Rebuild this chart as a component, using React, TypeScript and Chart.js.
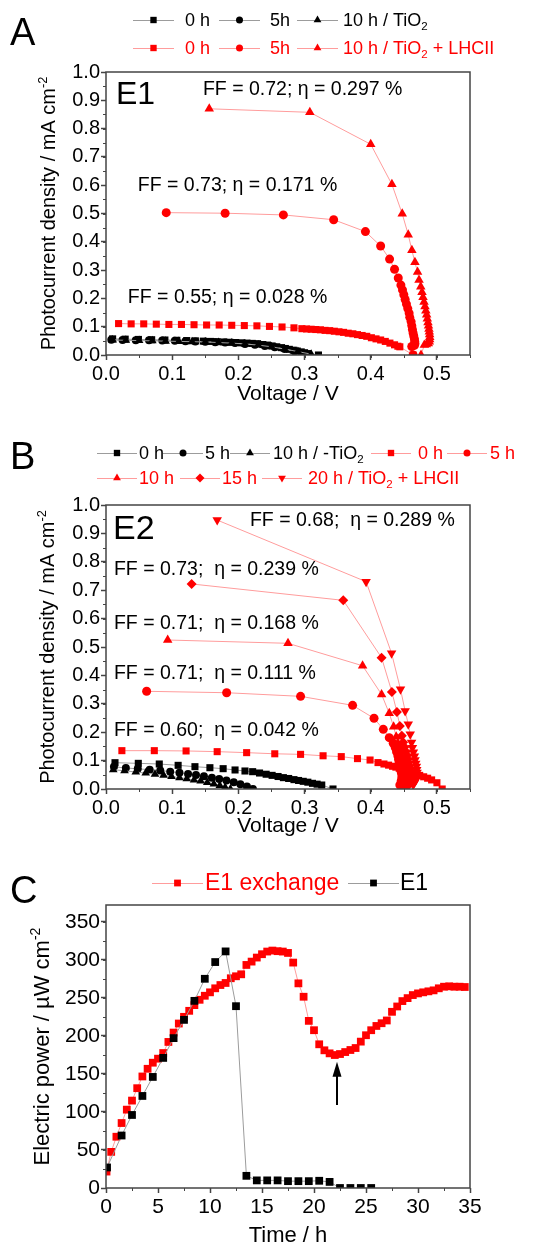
import React, { useEffect, useRef } from 'react';
import { Chart, registerables } from 'chart.js';

Chart.register(...registerables);

const FONT = '"Liberation Sans", Arial, Helvetica, sans-serif';
const RED = '#ff0000';
const RED_LINE = '#ff9c9c';
const BLACK = '#000000';
const GREY_LINE = '#9c9c9c';
const AXIS = '#444444';

// ---------- Panel A: E1, photocurrent density (mA cm-2) vs voltage (V) ----------
const A_BLK0_V = [0.010, 0.029, 0.049, 0.069, 0.089, 0.107, 0.122, 0.135, 0.147, 0.158, 0.168, 0.178, 0.187, 0.196, 0.205, 0.213, 0.221, 0.229, 0.237, 0.244, 0.251, 0.258, 0.265, 0.271, 0.277, 0.283, 0.289, 0.295, 0.300, 0.305, 0.321];
const A_BLK0_J = [0.057, 0.056, 0.055, 0.054, 0.053, 0.052, 0.051, 0.050, 0.049, 0.048, 0.047, 0.046, 0.045, 0.044, 0.043, 0.042, 0.041, 0.040, 0.037, 0.035, 0.032, 0.029, 0.026, 0.023, 0.020, 0.017, 0.014, 0.011, 0.008, 0.005, 0.000];
const A_BLK5_V = [0.008, 0.025, 0.045, 0.065, 0.085, 0.104, 0.120, 0.135, 0.150, 0.165, 0.180, 0.195, 0.210, 0.225, 0.240, 0.255, 0.270, 0.285, 0.298];
const A_BLK5_J = [0.054, 0.053, 0.052, 0.052, 0.051, 0.050, 0.049, 0.048, 0.047, 0.045, 0.044, 0.042, 0.039, 0.036, 0.032, 0.027, 0.021, 0.013, 0.004];
const A_BLK10_V = [0.010, 0.030, 0.050, 0.070, 0.090, 0.110, 0.130, 0.150, 0.170, 0.190, 0.210, 0.230, 0.250, 0.270, 0.290, 0.310];
const A_BLK10_J = [0.053, 0.052, 0.051, 0.050, 0.049, 0.048, 0.047, 0.046, 0.044, 0.042, 0.039, 0.035, 0.029, 0.021, 0.012, 0.003];
const A_RED0_V = [0.019, 0.038, 0.057, 0.076, 0.095, 0.114, 0.133, 0.152, 0.171, 0.190, 0.209, 0.228, 0.247, 0.266, 0.284, 0.296, 0.303, 0.310, 0.317, 0.324, 0.331, 0.338, 0.345, 0.352, 0.359, 0.366, 0.373, 0.380, 0.387, 0.394, 0.401, 0.408, 0.415, 0.422, 0.429, 0.436, 0.441, 0.444, 0.464];
const A_RED0_J = [0.111, 0.110, 0.110, 0.109, 0.108, 0.108, 0.107, 0.106, 0.106, 0.105, 0.104, 0.103, 0.101, 0.099, 0.096, 0.093, 0.092, 0.091, 0.090, 0.089, 0.087, 0.086, 0.084, 0.082, 0.080, 0.077, 0.075, 0.072, 0.069, 0.066, 0.061, 0.057, 0.053, 0.048, 0.042, 0.036, 0.031, 0.029, 0.000];
const A_RED5_V = [0.091, 0.180, 0.268, 0.344, 0.392, 0.415, 0.4285, 0.436, 0.4416, 0.4456, 0.448, 0.450, 0.452, 0.454, 0.456, 0.458, 0.459, 0.461, 0.462, 0.463, 0.464, 0.465, 0.466, 0.4665, 0.4668, 0.466, 0.462, 0.464];
const A_RED5_J = [0.503, 0.501, 0.495, 0.478, 0.436, 0.385, 0.339, 0.303, 0.272, 0.247, 0.230, 0.213, 0.196, 0.180, 0.164, 0.148, 0.133, 0.118, 0.104, 0.090, 0.078, 0.067, 0.057, 0.048, 0.040, 0.034, 0.030, 0.000];
const A_RED10_V = [0.156, 0.308, 0.400, 0.432, 0.4476, 0.4567, 0.4622, 0.4668, 0.4708, 0.473, 0.4756, 0.4775, 0.479, 0.4805, 0.482, 0.4833, 0.4845, 0.4855, 0.4865, 0.4873, 0.488, 0.4885, 0.489, 0.4892, 0.489, 0.4885, 0.487, 0.484, 0.481, 0.476];
const A_RED10_J = [0.870, 0.8575, 0.7445, 0.603, 0.499, 0.425, 0.370, 0.3275, 0.293, 0.265, 0.241, 0.222, 0.204, 0.187, 0.171, 0.156, 0.142, 0.128, 0.115, 0.103, 0.092, 0.082, 0.072, 0.063, 0.055, 0.047, 0.041, 0.037, 0.035, 0.000];

// ---------- Panel B: E2 ----------
const B_BLK0_V = [0.0136, 0.0488, 0.0805, 0.109, 0.1344, 0.157, 0.177, 0.195, 0.210, 0.2216, 0.232, 0.242, 0.251, 0.260, 0.268, 0.276, 0.284, 0.291, 0.298, 0.305, 0.312, 0.319, 0.326, 0.343];
const B_BLK0_J = [0.0926, 0.0903, 0.088, 0.0833, 0.0786, 0.075, 0.0716, 0.067, 0.0634, 0.061, 0.0563, 0.052, 0.048, 0.044, 0.040, 0.037, 0.033, 0.030, 0.027, 0.024, 0.020, 0.017, 0.014, 0.000];
const B_BLK5_V = [0.012, 0.030, 0.048, 0.066, 0.082, 0.097, 0.111, 0.124, 0.136, 0.148, 0.160, 0.171, 0.182, 0.193, 0.203, 0.213, 0.222];
const B_BLK5_J = [0.078, 0.074, 0.071, 0.068, 0.065, 0.061, 0.057, 0.053, 0.049, 0.045, 0.040, 0.035, 0.030, 0.024, 0.017, 0.009, 0.000];
const B_BLK10_V = [0.011, 0.028, 0.045, 0.060, 0.074, 0.087, 0.099, 0.111, 0.122, 0.133, 0.143, 0.153, 0.163, 0.172, 0.180, 0.188];
const B_BLK10_J = [0.068, 0.064, 0.060, 0.056, 0.052, 0.048, 0.044, 0.040, 0.036, 0.032, 0.028, 0.023, 0.018, 0.012, 0.006, 0.000];
const B_RED0_V = [0.024, 0.073, 0.121, 0.168, 0.2125, 0.255, 0.294, 0.328, 0.3555, 0.380, 0.399, 0.411, 0.420, 0.427, 0.433, 0.438, 0.443, 0.448, 0.453, 0.458, 0.463, 0.468, 0.474, 0.480, 0.486, 0.492, 0.500, 0.508];
const B_RED0_J = [0.135, 0.135, 0.134, 0.1315, 0.128, 0.124, 0.122, 0.117, 0.114, 0.107, 0.102, 0.093, 0.088, 0.084, 0.080, 0.077, 0.073, 0.069, 0.065, 0.061, 0.057, 0.053, 0.048, 0.043, 0.038, 0.032, 0.022, 0.000];
const B_RED5_V = [0.0614, 0.1823, 0.294, 0.3726, 0.405, 0.419, 0.428, 0.434, 0.437, 0.439, 0.441, 0.442, 0.443, 0.444, 0.445, 0.446, 0.447, 0.447, 0.446, 0.444];
const B_RED5_J = [0.344, 0.339, 0.3263, 0.2946, 0.249, 0.210, 0.1807, 0.161, 0.146, 0.131, 0.117, 0.104, 0.092, 0.081, 0.070, 0.060, 0.050, 0.040, 0.028, 0.014];
const B_RED10_V = [0.0932, 0.275, 0.3877, 0.4164, 0.428, 0.4346, 0.4385, 0.441, 0.443, 0.445, 0.4465, 0.448, 0.449, 0.450, 0.451, 0.452, 0.4525, 0.453, 0.453, 0.452, 0.450];
const B_RED10_J = [0.5246, 0.513, 0.434, 0.333, 0.2664, 0.2195, 0.184, 0.162, 0.146, 0.131, 0.117, 0.104, 0.092, 0.081, 0.070, 0.060, 0.050, 0.040, 0.030, 0.020, 0.010];
const B_RED15_V = [0.1294, 0.3585, 0.4164, 0.432, 0.4396, 0.444, 0.447, 0.449, 0.451, 0.453, 0.455, 0.456, 0.457, 0.458, 0.459, 0.4595, 0.460, 0.460, 0.4595, 0.458, 0.456];
const B_RED15_J = [0.722, 0.6643, 0.4624, 0.3415, 0.271, 0.222, 0.1877, 0.165, 0.148, 0.132, 0.118, 0.105, 0.093, 0.082, 0.071, 0.061, 0.051, 0.041, 0.031, 0.021, 0.011];
const B_RED20_V = [0.168, 0.393, 0.4315, 0.445, 0.452, 0.4567, 0.4597, 0.4617, 0.463, 0.4645, 0.466, 0.467, 0.468, 0.469, 0.4695, 0.470, 0.470, 0.4695, 0.468, 0.466, 0.464];
const B_RED20_J = [0.947, 0.730, 0.478, 0.351, 0.2746, 0.228, 0.193, 0.164, 0.145, 0.129, 0.115, 0.102, 0.090, 0.079, 0.068, 0.058, 0.048, 0.039, 0.030, 0.022, 0.015];

// ---------- Panel C: electric power (µW cm-2) vs time (h) ----------
const C_E1_T = [0.1, 1.5, 2.5, 3.5, 4.5, 5.5, 6.5, 7.5, 8.5, 9.5, 10.5, 11.5, 12.5, 13.5, 14.5, 15.5, 16.5, 17.5, 18.5, 19.5, 20.5, 21.5, 22.5, 23.5, 24.5, 25.5];
const C_E1_P = [27, 69, 96, 121, 146, 171, 197, 221, 246, 275, 297, 311, 239, 16, 10, 10, 10, 9, 9, 9, 9.5, 8, 0, 0, 0, 0];
const C_EX_T = [0.05, 0.5, 1, 1.5, 2, 2.5, 3, 3.5, 4, 4.5, 5, 5.5, 6, 6.5, 7, 7.5, 8, 8.5, 9, 9.5, 10, 10.5, 11, 11.5, 12, 12.5, 13, 13.5, 14, 14.5, 15, 15.5, 16, 16.5, 17, 17.5, 18, 18.5, 19, 19.5, 20, 20.5, 21, 21.5, 22, 22.5, 23, 23.5, 24, 24.5, 25, 25.5, 26, 26.5, 27, 27.5, 28, 28.5, 29, 29.5, 30, 30.5, 31, 31.5, 32, 32.5, 33, 33.5, 34, 34.5];
const C_EX_P = [21.6, 47.5, 67.4, 85.4, 103, 114.9, 131.2, 146.6, 156.7, 164.7, 170, 177.4, 192, 204.3, 216.2, 225, 232.9, 240.4, 247.4, 252.7, 257.2, 262.5, 266.8, 269.5, 275.7, 278.3, 280.9, 293.2, 297.6, 302.9, 307.3, 310.8, 312.1, 311.3, 310.8, 309, 296.3, 269, 251.4, 219.7, 207.4, 188.9, 181, 177, 174.8, 176.1, 178.7, 181.4, 184, 192.4, 200.8, 207.4, 213, 216.6, 220.2, 231.6, 238.6, 245.7, 249.6, 253.6, 255.8, 257.2, 258.5, 259.8, 262.5, 264.6, 265.1, 264.6, 264.6, 264.2];
const C_ARROW = { t: 22.2, from: 109, to: 166 };

type Part = { t: string; k?: 'sub' | 'sup' };
type Style = 'rect' | 'circle' | 'triangle' | 'rectRot';

interface Series { xs: number[]; ys: number[]; color: string; line: string; style: Style; r: number; rot?: number }
interface LegendItem { lx: number; tx: number; style: Style; rot?: number; color: string; line: string; parts: Part[]; mr: number }
interface LegendRow { y: number; len: number; size: number; items: LegendItem[] }
interface Note { x: number; y: number; parts: Part[]; size: number }
interface Panel {
  top: number; height: number; padTop: number; xAxisH: number;
  letter: string; letterY: number; letterSize: number;
  xMin: number; xMax: number; xStep: number; xMinor: number; xDigits: number;
  yMin: number; yMax: number; yStep: number; yMinor: number; yDigits: number;
  tickSize: number; xTitle: string; xTitleSize: number; xTitlePad: number;
  yTitle: Part[]; yTitleSize: number; yTitleX: number;
  series: Series[]; legend: LegendRow[]; notes: Note[];
  arrow?: { t: number; from: number; to: number };
}

const txt = (t: string): Part[] => [{ t }];
const tio2 = (pre: string, post = ''): Part[] =>
  post ? [{ t: pre + 'TiO' }, { t: '2', k: 'sub' }, { t: post }] : [{ t: pre + 'TiO' }, { t: '2', k: 'sub' }];

const PHOTO_TITLE: Part[] = [{ t: 'Photocurrent density / mA cm' }, { t: '-2', k: 'sup' }];

const PANEL_A: Panel = {
  top: 0, height: 420, padTop: 72, xAxisH: 65,
  letter: 'A', letterY: 45, letterSize: 38,
  xMin: 0, xMax: 0.55, xStep: 0.1, xMinor: 0.05, xDigits: 1,
  yMin: 0, yMax: 1.0, yStep: 0.1, yMinor: 0.05, yDigits: 1,
  tickSize: 20, xTitle: 'Voltage / V', xTitleSize: 21, xTitlePad: 13,
  yTitle: PHOTO_TITLE, yTitleSize: 20, yTitleX: 55,
  series: [
    { xs: A_RED10_V, ys: A_RED10_J, color: RED, line: RED_LINE, style: 'triangle', r: 5.5 },
    { xs: A_RED5_V, ys: A_RED5_J, color: RED, line: RED_LINE, style: 'circle', r: 4.5 },
    { xs: A_RED0_V, ys: A_RED0_J, color: RED, line: RED_LINE, style: 'rect', r: 5 },
    { xs: A_BLK10_V, ys: A_BLK10_J, color: BLACK, line: GREY_LINE, style: 'triangle', r: 5 },
    { xs: A_BLK5_V, ys: A_BLK5_J, color: BLACK, line: GREY_LINE, style: 'circle', r: 4 },
    { xs: A_BLK0_V, ys: A_BLK0_J, color: BLACK, line: GREY_LINE, style: 'rect', r: 5 },
  ],
  legend: [
    {
      y: 20, len: 41, size: 18, items: [
        { lx: 133, tx: 185, style: 'rect', color: BLACK, line: GREY_LINE, parts: txt('0 h'), mr: 4.5 },
        { lx: 219, tx: 270, style: 'circle', color: BLACK, line: GREY_LINE, parts: txt('5h'), mr: 3.5 },
        { lx: 297, tx: 343, style: 'triangle', color: BLACK, line: GREY_LINE, parts: tio2('10 h / '), mr: 4.5 },
      ],
    },
    {
      y: 48, len: 41, size: 18, items: [
        { lx: 133, tx: 185, style: 'rect', color: RED, line: RED_LINE, parts: txt('0 h'), mr: 4.5 },
        { lx: 219, tx: 270, style: 'circle', color: RED, line: RED_LINE, parts: txt('5h'), mr: 3.5 },
        { lx: 297, tx: 343, style: 'triangle', color: RED, line: RED_LINE, parts: tio2('10 h / ', ' + LHCII'), mr: 4.5 },
      ],
    },
  ],
  notes: [
    { x: 0.015, y: 0.919, parts: txt('E1'), size: 32 },
    { x: 0.1465, y: 0.936, parts: txt('FF = 0.72; η = 0.297 %'), size: 19.5 },
    { x: 0.048, y: 0.597, parts: txt('FF = 0.73; η = 0.171 %'), size: 19.5 },
    { x: 0.033, y: 0.2025, parts: txt('FF = 0.55; η = 0.028 %'), size: 19.5 },
  ],
};

const PANEL_B: Panel = {
  top: 420, height: 420, padTop: 85, xAxisH: 51,
  letter: 'B', letterY: 49, letterSize: 38,
  xMin: 0, xMax: 0.55, xStep: 0.1, xMinor: 0.05, xDigits: 1,
  yMin: 0, yMax: 1.0, yStep: 0.1, yMinor: 0.05, yDigits: 1,
  tickSize: 20, xTitle: 'Voltage / V', xTitleSize: 21, xTitlePad: 1,
  yTitle: PHOTO_TITLE, yTitleSize: 20, yTitleX: 54,
  series: [
    { xs: B_RED20_V, ys: B_RED20_J, color: RED, line: RED_LINE, style: 'triangle', r: 5.5, rot: 180 },
    { xs: B_RED15_V, ys: B_RED15_J, color: RED, line: RED_LINE, style: 'rectRot', r: 5 },
    { xs: B_RED10_V, ys: B_RED10_J, color: RED, line: RED_LINE, style: 'triangle', r: 5.5 },
    { xs: B_RED5_V, ys: B_RED5_J, color: RED, line: RED_LINE, style: 'circle', r: 4.5 },
    { xs: B_RED0_V, ys: B_RED0_J, color: RED, line: RED_LINE, style: 'rect', r: 5 },
    { xs: B_BLK10_V, ys: B_BLK10_J, color: BLACK, line: GREY_LINE, style: 'triangle', r: 5 },
    { xs: B_BLK5_V, ys: B_BLK5_J, color: BLACK, line: GREY_LINE, style: 'circle', r: 4 },
    { xs: B_BLK0_V, ys: B_BLK0_J, color: BLACK, line: GREY_LINE, style: 'rect', r: 5 },
  ],
  legend: [
    {
      y: 453, len: 40, size: 18, items: [
        { lx: 97, tx: 139, style: 'rect', color: BLACK, line: GREY_LINE, parts: txt('0 h'), mr: 4.5 },
        { lx: 163, tx: 205, style: 'circle', color: BLACK, line: GREY_LINE, parts: txt('5 h'), mr: 3.5 },
        { lx: 230, tx: 273, style: 'triangle', color: BLACK, line: GREY_LINE, parts: tio2('10 h / -'), mr: 4.5 },
        { lx: 371, tx: 418, style: 'rect', color: RED, line: RED_LINE, parts: txt('0 h'), mr: 4.5 },
        { lx: 447, tx: 490, style: 'circle', color: RED, line: RED_LINE, parts: txt('5 h'), mr: 3.5 },
      ],
    },
    {
      y: 478, len: 40, size: 18, items: [
        { lx: 97, tx: 139, style: 'triangle', color: RED, line: RED_LINE, parts: txt('10 h'), mr: 4.5 },
        { lx: 180, tx: 222, style: 'rectRot', color: RED, line: RED_LINE, parts: txt('15 h'), mr: 4.5 },
        { lx: 262, tx: 308, style: 'triangle', rot: 180, color: RED, line: RED_LINE, parts: tio2('20 h / ', ' + LHCII'), mr: 4.5 },
      ],
    },
  ],
  notes: [
    { x: 0.0106, y: 0.915, parts: txt('E2'), size: 34 },
    { x: 0.2175, y: 0.945, parts: txt('FF = 0.68;  η = 0.289 %'), size: 19.5 },
    { x: 0.012, y: 0.771, parts: txt('FF = 0.73;  η = 0.239 %'), size: 19.5 },
    { x: 0.012, y: 0.581, parts: txt('FF = 0.71;  η = 0.168 %'), size: 19.5 },
    { x: 0.012, y: 0.405, parts: txt('FF = 0.71;  η = 0.111 %'), size: 19.5 },
    { x: 0.012, y: 0.205, parts: txt('FF = 0.60;  η = 0.042 %'), size: 19.5 },
  ],
};

const PANEL_C: Panel = {
  top: 840, height: 409, padTop: 65, xAxisH: 61,
  letter: 'C', letterY: 63, letterSize: 38,
  xMin: 0, xMax: 35, xStep: 5, xMinor: 2.5, xDigits: 0,
  yMin: 0, yMax: 372, yStep: 50, yMinor: 25, yDigits: 0,
  tickSize: 21, xTitle: 'Time / h', xTitleSize: 22, xTitlePad: 0,
  yTitle: [{ t: 'Electric power / µW cm' }, { t: '-2', k: 'sup' }], yTitleSize: 22, yTitleX: 49,
  series: [
    { xs: C_E1_T, ys: C_E1_P, color: BLACK, line: GREY_LINE, style: 'rect', r: 5.5 },
    { xs: C_EX_T, ys: C_EX_P, color: RED, line: RED_LINE, style: 'rect', r: 5.5 },
  ],
  legend: [
    {
      y: 883, len: 51, size: 23, items: [
        { lx: 152, tx: 205, style: 'rect', color: RED, line: RED_LINE, parts: txt('E1 exchange'), mr: 4.8 },
        { lx: 348, tx: 400, style: 'rect', color: BLACK, line: GREY_LINE, parts: txt('E1'), mr: 4.8 },
      ],
    },
  ],
  notes: [],
  arrow: C_ARROW,
};

function setFont(ctx: CanvasRenderingContext2D, size: number) {
  ctx.font = `${size}px ${FONT}`;
}

function richWidth(ctx: CanvasRenderingContext2D, parts: Part[], size: number) {
  let w = 0;
  for (const p of parts) {
    setFont(ctx, p.k ? size * 0.64 : size);
    w += ctx.measureText(p.t).width;
  }
  return w;
}

function drawRich(ctx: CanvasRenderingContext2D, parts: Part[], x: number, y: number, size: number, color: string, baseline: CanvasTextBaseline) {
  ctx.fillStyle = color;
  ctx.textAlign = 'left';
  ctx.textBaseline = baseline;
  let cx = x;
  for (const p of parts) {
    const s = p.k ? size * 0.64 : size;
    setFont(ctx, s);
    const dy = p.k === 'sub' ? size * 0.3 : p.k === 'sup' ? -size * 0.42 : 0;
    ctx.fillText(p.t, cx, y + dy);
    cx += ctx.measureText(p.t).width;
  }
}

function drawMarker(ctx: CanvasRenderingContext2D, style: Style, x: number, y: number, r: number, color: string, rot = 0) {
  ctx.save();
  ctx.fillStyle = color;
  ctx.beginPath();
  if (style === 'rect') {
    const s = r * Math.SQRT1_2;
    ctx.rect(x - s, y - s, 2 * s, 2 * s);
  } else if (style === 'rectRot') {
    ctx.moveTo(x, y - r);
    ctx.lineTo(x + r, y);
    ctx.lineTo(x, y + r);
    ctx.lineTo(x - r, y);
    ctx.closePath();
  } else if (style === 'circle') {
    ctx.arc(x, y, r, 0, Math.PI * 2);
  } else {
    let a = (rot * Math.PI) / 180;
    ctx.moveTo(x + Math.sin(a) * r, y - Math.cos(a) * r);
    a += (2 * Math.PI) / 3;
    ctx.lineTo(x + Math.sin(a) * r, y - Math.cos(a) * r);
    a += (2 * Math.PI) / 3;
    ctx.lineTo(x + Math.sin(a) * r, y - Math.cos(a) * r);
    ctx.closePath();
  }
  ctx.fill();
  ctx.restore();
}

function decorPlugin(p: Panel) {
  return {
    id: 'panelDecor',
    afterDatasetsDraw(chart: any) {
      const ctx: CanvasRenderingContext2D = chart.ctx;
      const { left, right, top, bottom } = chart.chartArea;
      const xs = chart.scales.x;
      const ys = chart.scales.y;
      ctx.save();
      ctx.strokeStyle = AXIS;
      ctx.lineWidth = 1.5;
      ctx.strokeRect(left, top, right - left, bottom - top);
      ctx.lineWidth = 1;
      ctx.beginPath();
      for (let i = 0; i * p.xMinor <= p.xMax + 1e-9; i++) {
        const px = Math.round(xs.getPixelForValue(i * p.xMinor)) + 0.5;
        ctx.moveTo(px, bottom);
        ctx.lineTo(px, bottom + 3);
      }
      for (let i = 0; i * p.yMinor <= p.yMax + 1e-9; i++) {
        const py = Math.round(ys.getPixelForValue(i * p.yMinor)) + 0.5;
        ctx.moveTo(left, py);
        ctx.lineTo(left - 3, py);
      }
      ctx.stroke();
      ctx.restore();
    },
    afterDraw(chart: any) {
      const ctx: CanvasRenderingContext2D = chart.ctx;
      const { top, bottom } = chart.chartArea;
      const xs = chart.scales.x;
      const ys = chart.scales.y;
      ctx.save();

      // panel letter
      setFont(ctx, p.letterSize);
      ctx.fillStyle = BLACK;
      ctx.textAlign = 'left';
      ctx.textBaseline = 'alphabetic';
      ctx.fillText(p.letter, 10, p.letterY);

      // legend rows
      for (const row of p.legend) {
        const y = row.y - p.top;
        for (const it of row.items) {
          ctx.strokeStyle = it.line;
          ctx.lineWidth = 1;
          ctx.beginPath();
          ctx.moveTo(it.lx, y + 0.5);
          ctx.lineTo(it.lx + row.len, y + 0.5);
          ctx.stroke();
          drawMarker(ctx, it.style, it.lx + row.len / 2, y, it.mr, it.color, it.rot ?? 0);
          drawRich(ctx, it.parts, it.tx, y + 1, row.size, it.color, 'middle');
        }
      }

      // in-plot labels
      for (const n of p.notes) {
        drawRich(ctx, n.parts, xs.getPixelForValue(n.x), ys.getPixelForValue(n.y), n.size, BLACK, 'middle');
      }

      // rotated y-axis title
      const w = richWidth(ctx, p.yTitle, p.yTitleSize);
      ctx.save();
      ctx.translate(p.yTitleX, (top + bottom) / 2);
      ctx.rotate(-Math.PI / 2);
      drawRich(ctx, p.yTitle, -w / 2, 0, p.yTitleSize, BLACK, 'alphabetic');
      ctx.restore();

      // arrow marking the minimum
      if (p.arrow) {
        const ax = Math.round(xs.getPixelForValue(p.arrow.t));
        const yFrom = ys.getPixelForValue(p.arrow.from);
        const yTip = ys.getPixelForValue(p.arrow.to);
        ctx.strokeStyle = BLACK;
        ctx.fillStyle = BLACK;
        ctx.lineWidth = 2;
        ctx.beginPath();
        ctx.moveTo(ax, yFrom);
        ctx.lineTo(ax, yTip + 10);
        ctx.stroke();
        ctx.beginPath();
        ctx.moveTo(ax, yTip);
        ctx.lineTo(ax - 4.5, yTip + 15);
        ctx.lineTo(ax + 4.5, yTip + 15);
        ctx.closePath();
        ctx.fill();
      }
      ctx.restore();
    },
  };
}

function makeChart(canvas: HTMLCanvasElement, p: Panel) {
  const tickFont = { family: FONT, size: p.tickSize };
  const grid = {
    display: true,
    drawOnChartArea: false,
    drawTicks: true,
    tickLength: 5,
    tickColor: AXIS,
    tickWidth: 1.5,
  };
  return new Chart(canvas, {
    type: 'scatter',
    data: {
      datasets: p.series.map((s) => ({
        data: s.xs.map((x, i) => ({ x, y: s.ys[i] })),
        showLine: true,
        borderColor: s.line,
        borderWidth: 1,
        backgroundColor: s.color,
        pointBackgroundColor: s.color,
        pointBorderColor: s.color,
        pointBorderWidth: 0,
        pointStyle: s.style,
        pointRadius: s.r,
        pointHoverRadius: s.r,
        pointRotation: s.rot ?? 0,
      })),
    },
    options: {
      responsive: false,
      animation: false,
      events: [],
      layout: { padding: { top: p.padTop, right: 82, bottom: 0, left: 0 } },
      plugins: { legend: { display: false }, tooltip: { enabled: false }, title: { display: false } },
      scales: {
        x: {
          type: 'linear',
          min: p.xMin,
          max: p.xMax,
          grid,
          border: { display: false },
          ticks: {
            stepSize: p.xStep,
            includeBounds: false,
            autoSkip: false,
            maxRotation: 0,
            padding: 2,
            color: BLACK,
            font: tickFont,
            callback: (v: any) => Number(v).toFixed(p.xDigits),
          },
          title: {
            display: true,
            text: p.xTitle,
            color: BLACK,
            font: { family: FONT, size: p.xTitleSize },
            padding: { top: 0, bottom: p.xTitlePad },
          },
          afterFit: (s: any) => {
            s.height = p.xAxisH;
          },
        },
        y: {
          type: 'linear',
          min: p.yMin,
          max: p.yMax,
          grid,
          border: { display: false },
          ticks: {
            stepSize: p.yStep,
            includeBounds: false,
            autoSkip: false,
            padding: 1,
            color: BLACK,
            font: tickFont,
            callback: (v: any) => Number(v).toFixed(p.yDigits),
          },
          afterFit: (s: any) => {
            s.width = 106;
          },
        },
      },
    } as any,
    plugins: [decorPlugin(p)],
  });
}

export default function App() {
  const refA = useRef<HTMLCanvasElement>(null);
  const refB = useRef<HTMLCanvasElement>(null);
  const refC = useRef<HTMLCanvasElement>(null);

  useEffect(() => {
    const charts = [
      makeChart(refA.current!, PANEL_A),
      makeChart(refB.current!, PANEL_B),
      makeChart(refC.current!, PANEL_C),
    ];
    return () => charts.forEach((c) => c.destroy());
  }, []);

  const canvasStyle = (p: Panel): React.CSSProperties => ({
    position: 'absolute',
    left: 0,
    top: p.top,
    width: 552,
    height: p.height,
  });

  return (
    <div style={{ position: 'absolute', left: 0, top: 0, width: 552, height: 1249, background: '#ffffff', overflow: 'hidden' }}>
      <canvas ref={refA} width={552} height={PANEL_A.height} style={canvasStyle(PANEL_A)} />
      <canvas ref={refB} width={552} height={PANEL_B.height} style={canvasStyle(PANEL_B)} />
      <canvas ref={refC} width={552} height={PANEL_C.height} style={canvasStyle(PANEL_C)} />
    </div>
  );
}
